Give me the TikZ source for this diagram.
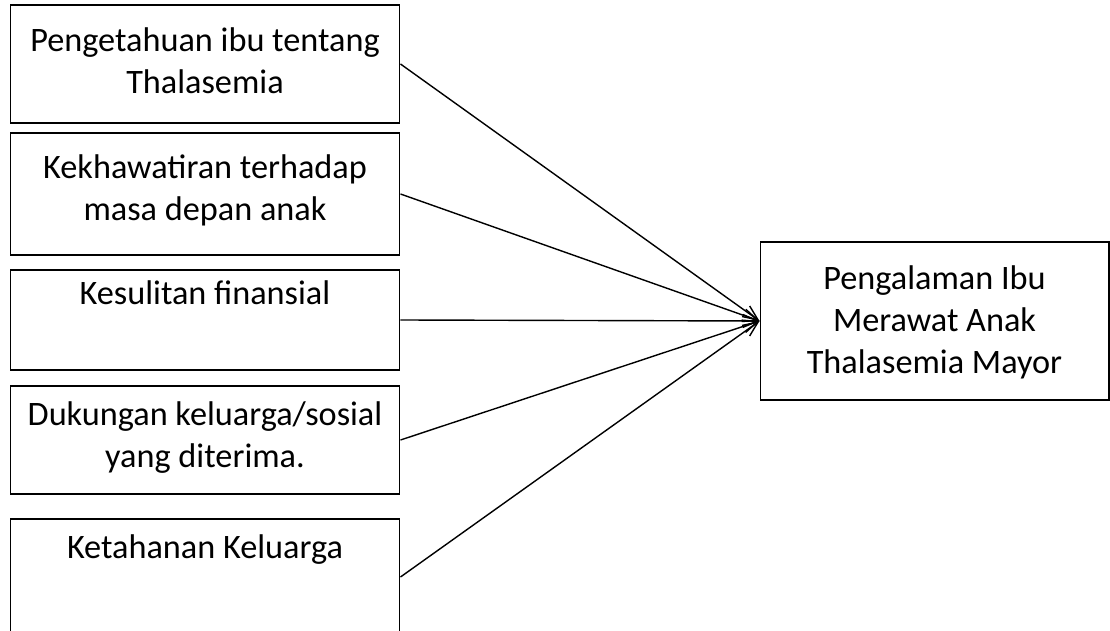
\documentclass[tikz,border=0pt]{standalone}
\usepackage{fontspec}
\setmainfont{Carlito}
\usetikzlibrary{arrows.meta,positioning}

\begin{document}
\begin{tikzpicture}[x=0.02cm, y=-0.02cm]
	\tikzstyle{every node}=[font=\fontsize{19.5}{24}\selectfont]
	\tikzstyle{factor}=[draw, line width=0.6pt, minimum width=7.8cm, inner sep=0pt]
	\tikzstyle{factortext}=[anchor=north, align=center, inner sep=0pt]
	\tikzstyle{link}=[line width=0.8pt, -{Straight Barb[length=3mm, width=2.6mm]}]
	\useasboundingbox (0,0) rectangle (1110,631);
	% factor boxes on the left
	\node [factor, minimum height=2.36cm] (know) at (205,64) {};
	\node [factor, minimum height=2.44cm] (worry) at (205,194) {};
	\node [factor, minimum height=2.0cm] (money) at (205,320) {};
	\node [factor, minimum height=2.16cm] (support) at (205,440) {};
	\node [factor, minimum height=2.32cm] (resil) at (205,577) {};
	% outcome box
	\node [factor, minimum width=6.98cm, minimum height=3.16cm] (exp) at (934.5,321) {};
	% texts
	\node [factortext] (knowtext) [below=0.46cm of know.north] {Pengetahuan ibu tentang\\Thalasemia};
	\node [factortext] (worrytext) [below=0.44cm of worry.north] {Kekhawatiran terhadap\\masa depan anak};
	\node [factortext] (moneytext) [below=0.22cm of money.north] {Kesulitan finansial};
	\node [factortext] (supporttext) [below=0.32cm of support.north] {Dukungan keluarga/sosial\\yang diterima.};
	\node [factortext] (resiltext) [below=0.32cm of resil.north] {Ketahanan Keluarga};
	\node [factortext] (exptext) [below=0.48cm of exp.north] {Pengalaman Ibu\\Merawat Anak\\Thalasemia Mayor};
	% arrows
	\draw [link] (know.east) -- (exp.west);
	\draw [link] (worry.east) -- (exp.west);
	\draw [link] (money.east) -- (exp.west);
	\draw [link] (support.east) -- (exp.west);
	\draw [link] (resil.east) -- (exp.west);
\end{tikzpicture}
\end{document}
